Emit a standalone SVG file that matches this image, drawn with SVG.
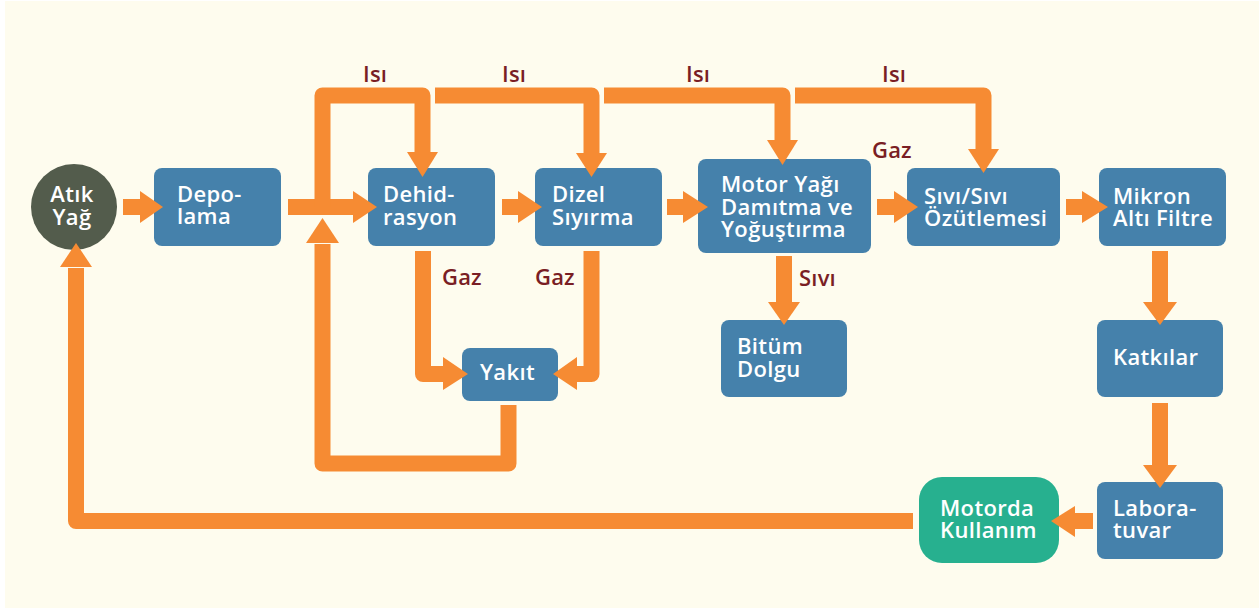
<svg xmlns="http://www.w3.org/2000/svg" width="1259" height="609" viewBox="0 0 1259 609">
  <defs>
    <style>
      .box { fill: #4581AB; }
      .end { fill: #27B08F; }
      .src { fill: #535C4C; }
      .t { font-family: "Open Sans", "Noto Sans", "DejaVu Sans", sans-serif; font-weight: 600; font-size: 22px; letter-spacing: 0.35px; fill: #FFFFFF; }
      .lbl { font-family: "Open Sans", "Noto Sans", "DejaVu Sans", sans-serif; font-weight: 600; font-size: 22px; letter-spacing: 0.2px; fill: #7A1E24; }
      .flow { fill: none; stroke: #F68B33; stroke-width: 16; stroke-linejoin: round; stroke-linecap: butt; }
      .head { fill: #F68B33; }
    </style>
  </defs>

  <rect x="0" y="0" width="1259" height="609" fill="#FFFFFF"/>
  <rect x="5" y="1" width="1254" height="607" fill="#FEFCEE"/>

  <!-- process nodes -->
  <g id="atik-yag">
    <circle class="src" cx="74" cy="207" r="43"/>
    <text class="t" x="72" y="202" text-anchor="middle">Atık</text>
    <text class="t" x="72" y="225" text-anchor="middle">Yağ</text>
  </g>
  <g id="depolama">
    <rect class="box" x="154" y="168" width="127" height="78" rx="8"/>
    <text class="t" x="177" y="202">Depo-</text>
    <text class="t" x="177" y="224">lama</text>
  </g>
  <g id="dehidrasyon">
    <rect class="box" x="368" y="168" width="127" height="78" rx="8"/>
    <text class="t" x="383" y="202">Dehid-</text>
    <text class="t" x="383" y="225">rasyon</text>
  </g>
  <g id="dizel-siyirma">
    <rect class="box" x="535" y="168" width="127" height="78" rx="8"/>
    <text class="t" x="552" y="202">Dizel</text>
    <text class="t" x="552" y="225">Sıyırma</text>
  </g>
  <g id="motor-yagi-damitma">
    <rect class="box" x="698" y="159" width="173" height="94" rx="8"/>
    <text class="t" x="721" y="192">Motor Yağı</text>
    <text class="t" x="721" y="215">Damıtma ve</text>
    <text class="t" x="721" y="237">Yoğuştırma</text>
  </g>
  <g id="sivi-sivi-ozutleme">
    <rect class="box" x="907" y="168" width="153" height="78" rx="8"/>
    <text class="t" x="924" y="204">Sıvı/Sıvı</text>
    <text class="t" x="924" y="226">Özütlemesi</text>
  </g>
  <g id="mikron-alti-filtre">
    <rect class="box" x="1099" y="168" width="127" height="78" rx="8"/>
    <text class="t" x="1113" y="204">Mikron</text>
    <text class="t" x="1113" y="226">Altı Filtre</text>
  </g>
  <g id="yakit">
    <rect class="box" x="462" y="348" width="96" height="53" rx="8"/>
    <text class="t" x="480" y="380">Yakıt</text>
  </g>
  <g id="bitum-dolgu">
    <rect class="box" x="721" y="320" width="126" height="77" rx="8"/>
    <text class="t" x="737" y="354">Bitüm</text>
    <text class="t" x="737" y="377">Dolgu</text>
  </g>
  <g id="katkilar">
    <rect class="box" x="1097" y="320" width="126" height="77" rx="8"/>
    <text class="t" x="1113" y="365">Katkılar</text>
  </g>
  <g id="laboratuvar">
    <rect class="box" x="1097" y="482" width="126" height="77" rx="8"/>
    <text class="t" x="1113" y="516">Labora-</text>
    <text class="t" x="1113" y="538">tuvar</text>
  </g>
  <g id="motorda-kullanim">
    <rect class="end" x="919" y="477" width="140" height="86" rx="23"/>
    <text class="t" x="940" y="516">Motorda</text>
    <text class="t" x="940" y="538">Kullanım</text>
  </g>

  <!-- flow connectors -->
  <g id="connectors">
    <!-- main line -->
    <path class="flow" d="M123 207 H141"/>
    <polygon class="head" points="140,191 163,207 140,223"/>
    <path class="flow" d="M288 207 H354"/>
    <polygon class="head" points="353,191 377,207 353,223"/>
    <path class="flow" d="M502 207 H519"/>
    <polygon class="head" points="518,191 542,207 518,223"/>
    <path class="flow" d="M667 207 H684"/>
    <polygon class="head" points="683,191 708,207 683,223"/>
    <path class="flow" d="M877 207 H895"/>
    <polygon class="head" points="894,191 918,207 894,223"/>
    <path class="flow" d="M1066 207 H1083"/>
    <polygon class="head" points="1082,191 1108,207 1082,223"/>

    <!-- heat loops -->
    <path class="flow" d="M322.5 207 V95.5 H422.5 V153"/>
    <polygon class="head" points="407,152 422.5,177 438,152"/>
    <path class="flow" d="M435 95.5 H591.5 V154"/>
    <polygon class="head" points="576,153 591.5,177 607,153"/>
    <path class="flow" d="M604 95.5 H782.5 V141"/>
    <polygon class="head" points="767,140 782.5,165 798,140"/>
    <path class="flow" d="M795 95.5 H983.5 V150"/>
    <polygon class="head" points="968,149 983.5,173 999,149"/>

    <!-- gas to fuel -->
    <path class="flow" d="M423 251 V374 H444"/>
    <polygon class="head" points="443,357 468,374 443,390"/>
    <path class="flow" d="M591.5 251 V374 H576"/>
    <polygon class="head" points="577,357 553,374 577,390"/>

    <!-- fuel back to main line -->
    <path class="flow" d="M508.5 405 V463.5 H322.5 V244"/>
    <polygon class="head" points="306,243 322.5,218 339,243"/>

    <!-- liquid to bitumen -->
    <path class="flow" d="M784 256 V303"/>
    <polygon class="head" points="768,302 784,325 800,302"/>

    <!-- finishing chain -->
    <path class="flow" d="M1160 251 V303"/>
    <polygon class="head" points="1143,302 1160,325 1177,302"/>
    <path class="flow" d="M1160 403 V466"/>
    <polygon class="head" points="1143,465 1160,488 1177,465"/>
    <path class="flow" d="M1093 521 H1074"/>
    <polygon class="head" points="1075,506 1051,521 1075,537"/>

    <!-- return to waste oil -->
    <path class="flow" d="M913 521 H76 V268"/>
    <polygon class="head" points="60,267 76,243 92,267"/>
  </g>

  <!-- flow labels -->
  <g id="labels">
    <text class="lbl" x="363" y="82">Isı</text>
    <text class="lbl" x="502" y="82">Isı</text>
    <text class="lbl" x="686" y="82">Isı</text>
    <text class="lbl" x="882" y="82">Isı</text>
    <text class="lbl" x="872" y="158">Gaz</text>
    <text class="lbl" x="442" y="285">Gaz</text>
    <text class="lbl" x="535" y="285">Gaz</text>
    <text class="lbl" x="799" y="286">Sıvı</text>
  </g>
</svg>
